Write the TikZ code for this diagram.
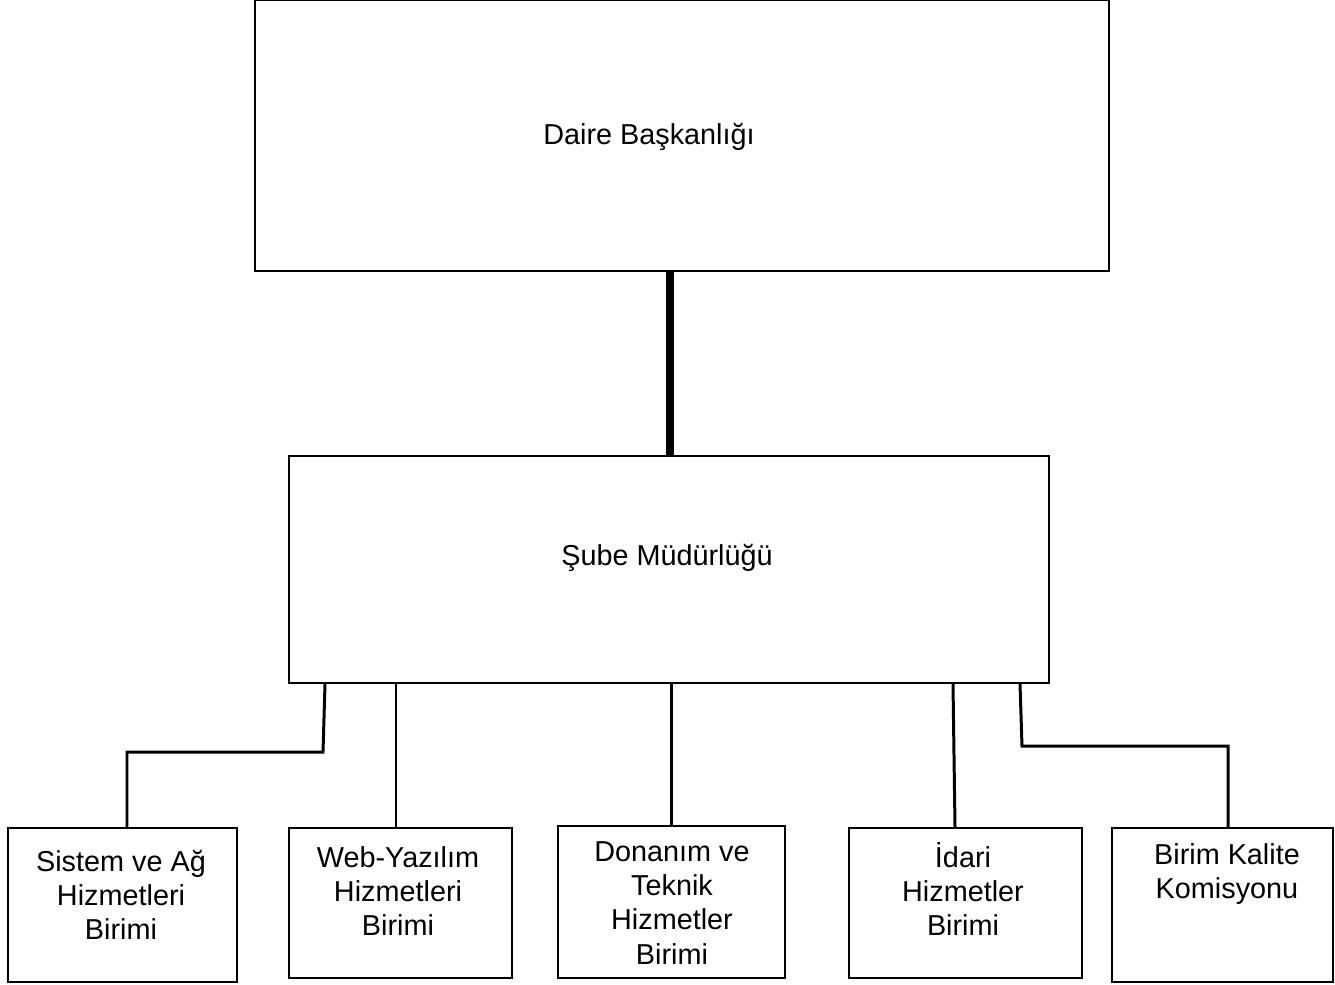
\documentclass[tikz,border=0pt]{standalone}
\usepackage{fontspec}
\setmainfont{Liberation Sans}
\usepackage{tikz}
\usetikzlibrary{positioning, calc}
\tikzstyle{unit} = [rectangle, draw=black, line width=1.2pt, fill=white, inner sep=0pt]
\tikzstyle{label} = [align=center, font=\fontsize{16.4}{19.4}\selectfont]
\tikzstyle{link} = [line width=1.7pt, line join=miter]
\tikzstyle{mainlink} = [line width=4pt]

\begin{document}
\begin{tikzpicture}[x=0.02cm, y=-0.02cm]

\useasboundingbox (0,0) rectangle (1335,984);

% Top level
\node[unit, minimum width=17.08cm, minimum height=5.42cm] (daire) at (682,135.5) {};
\node[label] (daire_txt) at (649,137) {Daire Başkanlığı};

% Branch office
\node[unit, minimum width=15.2cm, minimum height=4.54cm] (sube) at (669,569.5) {};
\node[label] (sube_txt) at (667,558) {Şube Müdürlüğü};

% Units
\node[unit, minimum width=4.58cm, minimum height=3.08cm] (sistem) at (122.5,905) {};
\node[label] at (121,895) {Sistem ve Ağ\\Hizmetleri\\Birimi};

\node[unit, minimum width=4.46cm, minimum height=3.0cm] (web) at (400.5,903) {};
\node[label] at (398,891) {Web-Yazılım\\Hizmetleri\\Birimi};

\node[unit, minimum width=4.54cm, minimum height=3.04cm] (donanim) at (671.5,902) {};
\node[label] at (672,903) {Donanım ve\\Teknik\\Hizmetler\\Birimi};

\node[unit, minimum width=4.66cm, minimum height=3.0cm] (idari) at (965.5,903) {};
\node[label] at (963,889) {İdari\\Hizmetler\\Birimi};

\node[unit, minimum width=4.42cm, minimum height=3.08cm] (kalite) at (1222.5,905) {};
\node[label] at (1227,874) {Birim Kalite\\Komisyonu};

% Connectors
\draw[mainlink] (daire.south -| 670,0) -- (sube.north -| 670,0);

\draw[link] (sube.south -| 325,0) -- (323,752) -- (127,752) -- (sistem.north -| 127,0);
\draw[link] (sube.south -| 396,0) -- (web.north -| 396,0);
\draw[link] (sube.south -| 671,0) -- (donanim.north -| 671,0);
\draw[link] (sube.south -| 953,0) -- (idari.north -| 955,0);
\draw[link] (sube.south -| 1020,0) -- (1022,746) -- (1228,746) -- (kalite.north -| 1228,0);

\end{tikzpicture}
\end{document}
